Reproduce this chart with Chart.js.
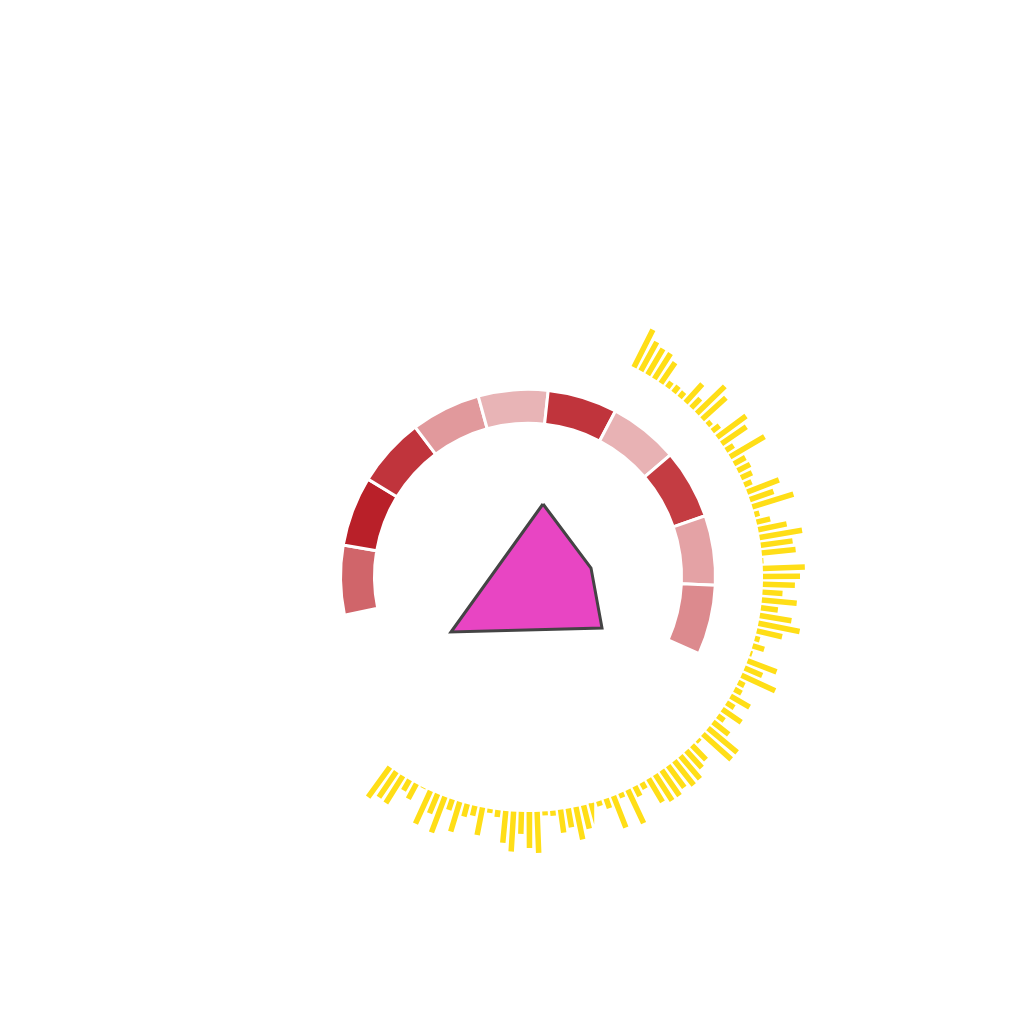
<!DOCTYPE html>
<html>
<head>
<meta charset="utf-8">
<script src="https://cdn.jsdelivr.net/npm/chart.js@4/dist/chart.umd.min.js"></script>
<style>
  html, body { margin: 0; padding: 0; background: #fff; }
  .layer { position: absolute; left: 0; top: 0; width: 1024px; height: 1024px; }
</style>
</head>
<body>
<div class="layer"><canvas id="ring"></canvas></div>
<div class="layer"><canvas id="spokes"></canvas></div>
<script>
// ring segments (equal slices, colour carries the value)
const ringLabels = ["A", "B", "C", "D", "E", "F", "G", "H", "I", "J"];
const ringValues = [1, 1, 1, 1, 1, 1, 1, 1, 1, 1];
const ringColors = ["#d0656a", "#b92029", "#c0343c", "#e1999c", "#e8b4b6",
                    "#c0343c", "#e8b2b4", "#c43c42", "#e4a2a5", "#dc8a8e"];

// yellow radial bars, clockwise from the top-right
const barLengths = [
  42, 33, 30, 30, 25, 7, 8, 7, 25, 13,
  39, 32, 5, 9, 36, 30, 9, 40, 13, 14,
  12, 8, 34, 25, 43, 5, 14, 29, 43, 32,
  34, 1, 42, 37, 32, 20, 35, 17, 32, 42,
  26, 5, 12, 2, 31, 19, 37, 7, 8, 22,
  9, 23, 8, 20, 38, 38, 3, 20, 23, 30,
  31, 27, 31, 31, 27, 7, 11, 37, 5, 34,
  10, 5, 1, 24, 33, 19, 23, 5, 4, 41,
  36, 22, 40, 32, 7, 4, 28, 10, 13, 31,
  11, 38, 21, 36, 1, 17, 12, 32, 31, 37
];
const barStartDeg = 26.8;
const barEndDeg = 216.0;
const barInner = 235;

// pink polygon
const polyX = [15, 63, 74, -77];
const polyY = [73, 9, -51, -55];

new Chart(document.getElementById("ring"), {
  type: "doughnut",
  data: {
    labels: ringLabels,
    datasets: [{
      data: ringValues,
      backgroundColor: ringColors,
      borderColor: "#ffffff",
      borderWidth: 3
    }]
  },
  options: {
    responsive: true,
    maintainAspectRatio: false,
    animation: false,
    devicePixelRatio: 1,
    rotation: -101.8,
    circumference: 216,
    radius: 187.5,
    cutout: "81.9%",
    layout: { padding: { left: 32, top: 19 } },
    plugins: { legend: { display: false }, tooltip: { enabled: false } }
  }
});

const step = (barEndDeg - barStartDeg) / (barLengths.length - 1);
const spokePoints = [];
barLengths.forEach((len, i) => {
  const a = (barStartDeg + i * step) * Math.PI / 180;
  spokePoints.push({ x: barInner * Math.sin(a), y: barInner * Math.cos(a) });
  spokePoints.push({ x: (barInner + len) * Math.sin(a), y: (barInner + len) * Math.cos(a) });
  spokePoints.push({ x: null, y: null });
});

const polyPoints = polyX.map((x, i) => ({ x: x, y: polyY[i] }));
polyPoints.push({ x: polyX[0], y: polyY[0] });

new Chart(document.getElementById("spokes"), {
  type: "scatter",
  data: {
    datasets: [
      {
        data: spokePoints,
        showLine: true,
        spanGaps: false,
        borderColor: "#ffde17",
        borderWidth: 5.5,
        borderCapStyle: "butt",
        pointRadius: 0
      },
      {
        data: polyPoints,
        showLine: true,
        fill: "shape",
        backgroundColor: "#e845c3",
        borderColor: "#444444",
        borderWidth: 3,
        borderJoinStyle: "miter",
        pointRadius: 0
      }
    ]
  },
  options: {
    responsive: true,
    maintainAspectRatio: false,
    animation: false,
    devicePixelRatio: 1,
    scales: {
      x: { type: "linear", min: -528, max: 496, display: false },
      y: { type: "linear", min: -447, max: 577, display: false }
    },
    plugins: { legend: { display: false }, tooltip: { enabled: false } }
  }
});
</script>
</body>
</html>
